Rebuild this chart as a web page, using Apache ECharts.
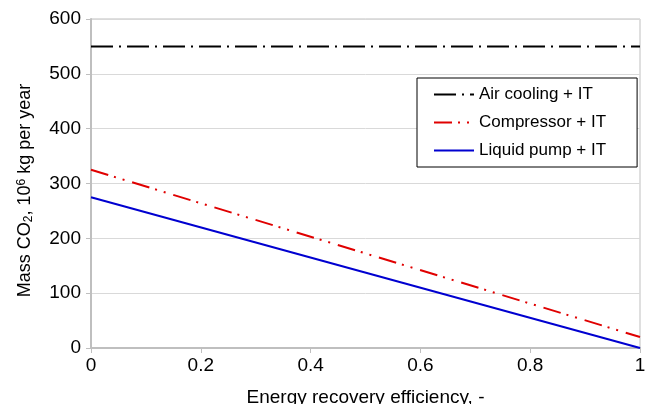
<!DOCTYPE html>
<html><head><meta charset="utf-8">
<script src="https://cdn.jsdelivr.net/npm/echarts@6/dist/echarts.min.js"></script>
<style>html,body{margin:0;padding:0;background:#fff}#c{width:653px;height:404px}</style>
</head><body><div id="c"></div>
<script>
const xValues = [0, 1];
const airCooling = [550, 550];
const compressor = [325, 20];
const liquidPump = [275, 0];
const seriesNames = ['Air cooling + IT', 'Compressor + IT', 'Liquid pump + IT'];

const chart = echarts.init(document.getElementById('c'), null, {renderer: 'canvas'});
const font = 'Liberation Sans, Arial, sans-serif';
function pts(ys){ return xValues.map((x,i)=>[x, ys[i]]); }
chart.setOption({
  animation: false,
  grid: {left: 91, right: 13, top: 19, bottom: 56, show: true, borderColor: '#bfbfbf', borderWidth: 1,
         containLabel: false, outerBoundsMode: 'none'},
  xAxis: {
    type: 'value', min: 0, max: 1, interval: 0.2,
    name: 'Energy recovery efficiency, -', nameLocation: 'middle', nameGap: 40,
    nameTextStyle: {fontFamily: font, fontSize: 19, color: '#000'},
    axisLine: {lineStyle: {color: '#bfbfbf', width: 2}},
    axisTick: {show: true, length: 5, lineStyle: {color: '#bfbfbf', width: 1}},
    axisLabel: {fontFamily: font, fontSize: 19, color: '#000', margin: 8,
      formatter: v => (v === 0 || v === 1) ? String(v) : v.toFixed(1)},
    splitLine: {show: false}
  },
  yAxis: {
    type: 'value', min: 0, max: 600, interval: 100,
    name: '{n|Mass CO}{sub|2}{n|, 10}{sup|6}{n| kg per year}', nameLocation: 'middle', nameGap: 56,
    nameTextStyle: {padding: [0, 14, 0, 0], rich: {
      n: {fontFamily: font, fontSize: 18, color: '#000'},
      sub: {fontFamily: font, fontSize: 12, color: '#000', verticalAlign: 'bottom', padding:[7,0,0,0]},
      sup: {fontFamily: font, fontSize: 12, color: '#000', verticalAlign: 'top', padding:[0,0,7,0]}
    }},
    axisLine: {show: true, lineStyle: {color: '#bfbfbf', width: 2}},
    axisTick: {show: true, length: 5, lineStyle: {color: '#bfbfbf', width: 1}},
    axisLabel: {fontFamily: font, fontSize: 19, color: '#000', margin: 10},
    splitLine: {show: true, lineStyle: {color: '#d9d9d9', width: 1}}
  },
  legend: {
    orient: 'vertical', left: 417, top: 78,
    padding: [8, 31, 8, 16], itemGap: 11, itemWidth: 40, itemHeight: 17,
    backgroundColor: '#fff', borderColor: '#000', borderWidth: 1, borderRadius: 0,
    textStyle: {fontFamily: font, fontSize: 17, color: '#000'},
    itemStyle: {opacity: 0},
    data: seriesNames
  },
  series: [
    {name: seriesNames[0], type: 'line', data: pts(airCooling), symbol: 'none',
     lineStyle: {color: '#000', width: 2, type: [22, 6, 2, 6]}, itemStyle: {color: '#000'}},
    {name: seriesNames[1], type: 'line', data: pts(compressor), symbol: 'none',
     lineStyle: {color: '#e00000', width: 2, type: [18, 6, 2, 7, 2, 8]}, itemStyle: {color: '#e00000'}},
    {name: seriesNames[2], type: 'line', data: pts(liquidPump), symbol: 'none',
     lineStyle: {color: '#0000d0', width: 2}, itemStyle: {color: '#0000d0'}}
  ]
});
</script></body></html>
